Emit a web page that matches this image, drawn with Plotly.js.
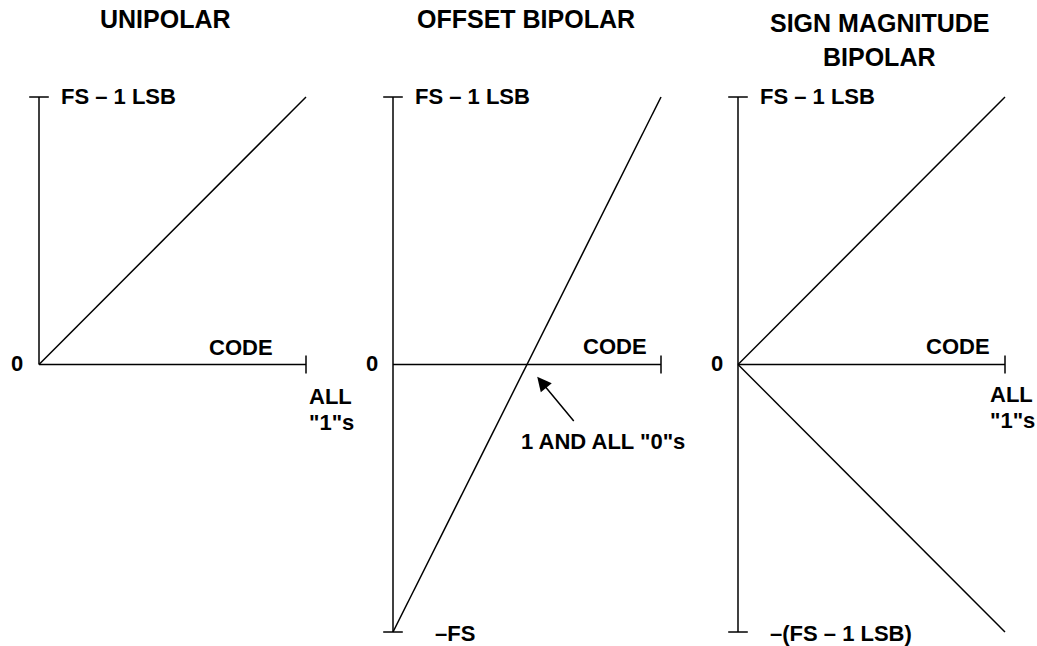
<!DOCTYPE html>
<html>
<head>
<meta charset="utf-8">
<script src="https://cdn.plot.ly/plotly-3.0.1.min.js"></script>
<style>
  html, body { margin: 0; padding: 0; background: #fff; }
  #chart { width: 1037px; height: 646px; }
</style>
</head>
<body>
<div id="chart"></div>
<script>
// transfer functions: code 0 -> all "1"s, output in units of full scale
var code          = [0, 1];
var unipolar      = [0, 1];
var offsetBipolar = [-1, 1];
var signMagPos    = [0, 1];
var signMagNeg    = [0, -1];

var titles = ['UNIPOLAR', 'OFFSET BIPOLAR', 'SIGN MAGNITUDE', 'BIPOLAR'];

var W = 1037, H = 646;
var INK = '#000000';
var FONT = { family: 'Liberation Sans, Arial, sans-serif', size: 22, color: INK, weight: 'bold' };

// pixel position of code 0 / all "1"s for each panel, and of +FS / -FS
var panels = [[39, 306], [393, 661], [738, 1005]];
var yTop = 97, yBot = 632;
var PADX = 0.1, PADY = 0.05;

function xdom(p) {
  var w = p[1] - p[0];
  return [(p[0] - PADX * w) / W, (p[1] + PADX * w) / W];
}
function ydom() {
  var h = (yBot - yTop) / 2;
  return [1 - (yBot + PADY * h) / H, 1 - (yTop - PADY * h) / H];
}
function px(x) { return x / W; }
function py(y) { return 1 - y / H; }

function seg(x, y, ax) {
  return {
    x: x, y: y, xaxis: 'x' + ax, yaxis: 'y' + ax,
    type: 'scatter', mode: 'lines',
    line: { color: INK, width: 1.5 },
    hoverinfo: 'skip', showlegend: false
  };
}
function tick(x, y, ax, sym, size) {
  return {
    x: x, y: y, xaxis: 'x' + ax, yaxis: 'y' + ax,
    type: 'scatter', mode: 'markers', cliponaxis: false,
    marker: { symbol: sym, size: size, color: INK, line: { color: INK, width: 1.5 } },
    hoverinfo: 'skip', showlegend: false
  };
}

var traces = [
  // unipolar
  seg([0, 0], [0, 1], ''),
  seg(code, [0, 0], ''),
  seg(code, unipolar, ''),
  tick([0], [1], '', 'line-ew-open', 14),
  tick([1], [0], '', 'line-ns-open', 13),
  // offset bipolar
  seg([0, 0], [-1, 1], '2'),
  seg(code, [0, 0], '2'),
  seg(code, offsetBipolar, '2'),
  tick([0, 0], [1, -1], '2', 'line-ew-open', 14),
  tick([1], [0], '2', 'line-ns-open', 13),
  // sign magnitude bipolar
  seg([0, 0], [-1, 1], '3'),
  seg(code, [0, 0], '3'),
  seg(code, signMagPos, '3'),
  seg(code, signMagNeg, '3'),
  tick([0, 0], [1, -1], '3', 'line-ew-open', 14),
  tick([1], [0], '3', 'line-ns-open', 13)
];

function label(text, x, y, xanchor, size) {
  var f = Object.assign({}, FONT);
  if (size) f.size = size;
  return {
    text: text, xref: 'paper', yref: 'paper', x: px(x), y: py(y),
    xanchor: xanchor, yanchor: 'middle', showarrow: false, font: f
  };
}

var annotations = [
  label(titles[0], 165, 19, 'center', 25),
  label(titles[1], 526, 19, 'center', 25),
  label(titles[2], 879, 23, 'center', 25),
  label(titles[3], 879, 57, 'center', 25),

  label('FS – 1 LSB', 59, 97, 'left'),
  label('0', 17, 364, 'center'),
  label('CODE', 275, 347, 'right'),
  label('ALL', 307, 396, 'left'),
  label('"1"s', 307, 422, 'left'),

  label('FS – 1 LSB', 413, 97, 'left'),
  label('0', 372, 364, 'center'),
  label('CODE', 649, 346, 'right'),
  label('–FS', 433, 633, 'left'),
  label('1 AND ALL "0"s', 603, 441, 'center'),

  label('FS – 1 LSB', 758, 97, 'left'),
  label('0', 717, 364, 'center'),
  label('CODE', 992, 346, 'right'),
  label('ALL', 988, 395, 'left'),
  label('"1"s', 988, 420, 'left'),
  label('–(FS – 1 LSB)', 768, 633, 'left'),

  {
    text: '', xref: 'x2', yref: 'y2', x: 0.5, y: 0,
    showarrow: true, ax: 48, ay: 58, standoff: 16,
    arrowhead: 2, arrowsize: 1.9, arrowwidth: 1.5, arrowcolor: INK
  }
];

var hidden = { visible: false, fixedrange: true };
var layout = {
  width: W, height: H,
  margin: { t: 0, r: 0, b: 0, l: 0 },
  paper_bgcolor: '#ffffff',
  plot_bgcolor: 'rgba(0,0,0,0)',
  showlegend: false,
  xaxis:  Object.assign({}, hidden, { domain: xdom(panels[0]), range: [-PADX, 1 + PADX] }),
  xaxis2: Object.assign({}, hidden, { domain: xdom(panels[1]), range: [-PADX, 1 + PADX] }),
  xaxis3: Object.assign({}, hidden, { domain: xdom(panels[2]), range: [-PADX, 1 + PADX] }),
  yaxis:  Object.assign({}, hidden, { domain: ydom(), range: [-1 - PADY, 1 + PADY] }),
  yaxis2: Object.assign({}, hidden, { domain: ydom(), range: [-1 - PADY, 1 + PADY] }),
  yaxis3: Object.assign({}, hidden, { domain: ydom(), range: [-1 - PADY, 1 + PADY] }),
  annotations: annotations
};

Plotly.newPlot('chart', traces, layout, { displayModeBar: false, staticPlot: true });
</script>
</body>
</html>
